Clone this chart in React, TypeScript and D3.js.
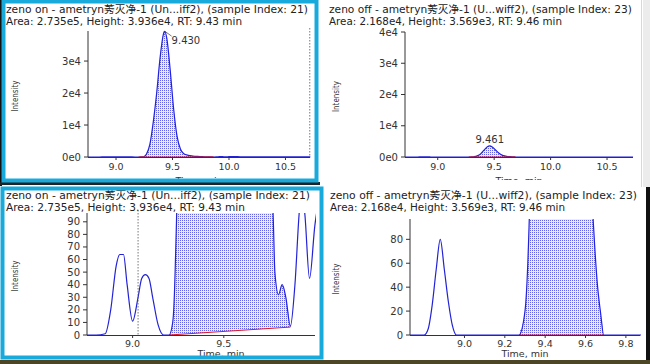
import React from 'react';
import * as d3 from 'd3';

// ---- data ----
const zenoOnTrace: [number, number][] = [
  [8.75, 0], [8.80, 0], [8.85, 1], [8.88, 20], [8.91, 55], [8.93, 64], [8.95, 64], [8.97, 40],
  [9.00, 11], [9.03, 30], [9.05, 45], [9.07, 48], [9.09, 45], [9.11, 30], [9.14, 8], [9.17, 0],
  [9.20, 0], [9.22, 10], [9.235, 60], [9.25, 180], [9.27, 900], [9.30, 4000], [9.33, 11000],
  [9.36, 20000], [9.39, 31000], [9.42, 38500], [9.43, 39360], [9.45, 37000], [9.48, 27000],
  [9.51, 15000], [9.54, 6500], [9.57, 2500], [9.60, 1000], [9.64, 500], [9.68, 300], [9.72, 180],
  [9.755, 120], [9.77, 97], [9.78, 50], [9.80, 32], [9.82, 40], [9.84, 30], [9.865, 7], [9.89, 40],
  [9.915, 100], [9.93, 115], [9.945, 95], [9.97, 45], [10.0, 88], [10.03, 110], [10.1, 80],
  [10.2, 40], [10.3, 30], [10.4, 20], [10.5, 25], [10.6, 15], [10.72, 10],
];
const zenoOnBaseline: [number, number][] = [[9.2, 0], [9.865, 6.3]];

const zenoOffTrace: [number, number][] = [
  [8.71, 0], [8.80, 0], [8.82, 5], [8.84, 25], [8.86, 55], [8.88, 80], [8.90, 55], [8.92, 28],
  [8.94, 8], [8.96, 0], [9.27, 0], [9.30, 20], [9.32, 90], [9.35, 350], [9.38, 1000], [9.41, 2200],
  [9.44, 3300], [9.461, 3569], [9.48, 3300], [9.51, 2300], [9.54, 1300], [9.57, 600], [9.60, 300],
  [9.62, 160], [9.64, 90], [9.66, 40], [9.675, 18], [9.69, 0], [10.73, 0],
];
const zenoOffBaseline: [number, number][] = [[9.275, 0], [9.69, 0]];

const titleOn = 'zeno on - ametryn莠灭净-1 (Un...iff2), (sample Index: 21)';
const infoOn = 'Area: 2.735e5, Height: 3.936e4, RT: 9.43 min';
const titleOff = 'zeno off - ametryn莠灭净-1 (U...wiff2), (sample Index: 23)';
const infoOff = 'Area: 2.168e4, Height: 3.569e3, RT: 9.46 min';

const topXTicks = [9.0, 9.5, 10.0, 10.5];
const topYTicks = [0, 10000, 20000, 30000, 40000];
const onZoomXTicks = [9.0, 9.5];
const onZoomYTicks = [0, 10, 20, 30, 40, 50, 60, 70, 80, 90];
const offZoomXTicks = [9.0, 9.2, 9.4, 9.6, 9.8];
const offZoomYTicks = [0, 20, 40, 60, 80];

const FONT = '"DejaVu Sans", "Noto Sans CJK SC", sans-serif';
const BLUE = '#2323d6';
const RED = '#e01818';
const CYAN = '#19aadc';

const sciFmt = (v: number) => {
  if (v === 0) return '0e0';
  const e = Math.floor(Math.log10(v));
  return `${Math.round(v / Math.pow(10, e))}e${e}`;
};

type PanelProps = {
  id: string;
  trace: [number, number][];
  baseline: [number, number][];
  xDomain: [number, number];
  xRange: [number, number];
  yDomain: [number, number];
  yRange: [number, number];
  xTicks: number[];
  yTicks: number[];
  yFmt: (v: number) => string;
  xFmt: (v: number) => string;
  yTickMax: number;
  title: string;
  info: string;
  titleX: number;
  titleY: number;
  titleLen: number;
  infoLen: number;
  intensityX: number;
  timeY: number;
  timeX?: number;
  tickLabelDy: number;
  clipBottom?: number;
  peak?: { t: number; v: number; label: string; leader: boolean };
  cursorT?: number;
};

function Panel(p: PanelProps) {
  const x = d3.scaleLinear().domain(p.xDomain).range(p.xRange);
  const y = d3.scaleLinear().domain(p.yDomain).range(p.yRange);
  const [x0, x1] = p.xRange;
  const [yb, yt] = p.yRange;
  const line = d3.line<[number, number]>().x(d => x(d[0])).y(d => y(d[1])).curve(d3.curveMonotoneX);

  const [b0, b1] = p.baseline;
  const baseAt = (t: number) => b0[1] + (b1[1] - b0[1]) * (t - b0[0]) / (b1[0] - b0[0]);
  const interp = (t: number) => {
    for (let i = 0; i < p.trace.length - 1; i++) {
      const a = p.trace[i], b = p.trace[i + 1];
      if (t >= a[0] && t <= b[0]) return a[1] + (b[1] - a[1]) * (t - a[0]) / (b[0] - a[0]);
    }
    return 0;
  };
  const fillPts: [number, number][] = [
    [b0[0], interp(b0[0])],
    ...p.trace.filter(d => d[0] > b0[0] && d[0] < b1[0]),
    [b1[0], interp(b1[0])],
  ];
  const area = d3.area<[number, number]>()
    .x(d => x(d[0]))
    .y0(d => y(baseAt(d[0])))
    .y1(d => y(Math.max(d[1], baseAt(d[0]))))
    .curve(d3.curveMonotoneX);

  const midX = p.timeX ?? (x0 + x1) / 2;
  const intensityY = (yb + yt) / 2 + 2;

  return (
    <g clipPath={p.clipBottom ? `url(#${p.id}-panel)` : undefined}>
      <defs>
        <clipPath id={`${p.id}-plot`}>
          <rect x={x0} y={yt} width={x1 - x0 + 1} height={yb - yt + 1} />
        </clipPath>
        {p.clipBottom ? (
          <clipPath id={`${p.id}-panel`}>
            <rect x={0} y={0} width={650} height={p.clipBottom} />
          </clipPath>
        ) : null}
      </defs>
      <text x={p.titleX} y={p.titleY} fontSize={10.5} fontFamily={FONT} fill="#222"
        textLength={p.titleLen} lengthAdjust="spacingAndGlyphs">{p.title}</text>
      <text x={p.titleX} y={p.titleY + 12} fontSize={10.5} fontFamily={FONT} fill="#222"
        textLength={p.infoLen} lengthAdjust="spacingAndGlyphs">{p.info}</text>

      <g clipPath={`url(#${p.id}-plot)`}>
        <path d={area(fillPts) ?? ''} fill={`url(#dots)`} stroke="none" />
        <path d={line(p.trace) ?? ''} fill="none" stroke={BLUE} strokeWidth={1.2} />
        <line x1={x(b0[0])} y1={y(b0[1])} x2={x(b1[0])} y2={y(b1[1])} stroke={RED} strokeWidth={1} />
      </g>

      {p.cursorT !== undefined && (
        <line x1={x(p.cursorT)} x2={x(p.cursorT)} y1={yt - 3} y2={yb} stroke="#555" strokeWidth={0.8} strokeDasharray="1.5,1.5" />
      )}

      {/* axes */}
      <line x1={x0} x2={x0} y1={yt} y2={yb} stroke="#333" strokeWidth={1} />
      <line x1={x0} x2={x1} y1={yb + 0.5} y2={yb + 0.5} stroke="#333" strokeWidth={1} />
      {p.yTicks.filter(v => v <= p.yTickMax).map(v => (
        <g key={`y${v}`}>
          <line x1={x0 - 4} x2={x0} y1={y(v)} y2={y(v)} stroke="#333" />
          <text x={x0 - 7} y={y(v)} dy="0.35em" textAnchor="end" fontSize={10} fontFamily={FONT} fill="#333">{p.yFmt(v)}</text>
        </g>
      ))}
      {p.xTicks.map(v => (
        <g key={`x${v}`}>
          <line x1={x(v)} x2={x(v)} y1={yb} y2={yb + 3} stroke="#333" />
          <text x={x(v)} y={yb + p.tickLabelDy} textAnchor="middle" fontSize={9.5} fontFamily={FONT} fill="#333">{p.xFmt(v)}</text>
        </g>
      ))}
      <text x={midX} y={p.timeY} textAnchor="middle" fontSize={9.5} fontFamily={FONT} fill="#333">Time, min</text>
      <text transform={`translate(${p.intensityX},${intensityY}) rotate(-90)`} textAnchor="middle"
        fontSize={8.5} fontFamily={FONT} fill="#333" textLength={31} lengthAdjust="spacingAndGlyphs">Intensity</text>

      {p.peak && (
        <g>
          {p.peak.leader && (
            <line x1={x(p.peak.t)} y1={y(p.peak.v)} x2={x(p.peak.t) + 7} y2={y(p.peak.v) + 5} stroke="#555" strokeWidth={0.8} />
          )}
          <text x={p.peak.leader ? x(p.peak.t) + 7 : x(p.peak.t)} y={p.peak.leader ? y(p.peak.v) + 13 : y(p.peak.v) - 3}
            textAnchor={p.peak.leader ? 'start' : 'middle'} fontSize={10} fontFamily={FONT} fill="#333">{p.peak.label}</text>
        </g>
      )}
    </g>
  );
}

export default function App() {
  const f1 = (v: number) => v.toFixed(1);
  const intFmt = (v: number) => `${v}`;
  return (
    <svg width={650} height={364} style={{ position: 'absolute', left: 0, top: 0, background: '#fff' }}>
      <defs>
        <pattern id="dots" width={2} height={2} patternUnits="userSpaceOnUse">
          <rect width={2} height={2} fill="#ececfc" />
          <rect width={1} height={1} fill="#6262e8" />
        </pattern>
      </defs>
      <rect x={0} y={0} width={650} height={364} fill="#fff" />

      {/* top-left */}
      <Panel id="tl" trace={zenoOnTrace} baseline={zenoOnBaseline}
        xDomain={[8.752, 10.717]} xRange={[88, 310]} yDomain={[0, 39400]} yRange={[157, 31]}
        xTicks={topXTicks} yTicks={topYTicks} yFmt={sciFmt} xFmt={f1} yTickMax={39000}
        title={titleOn} info={infoOn} titleX={6} titleY={13} titleLen={302} infoLen={236}
        intensityX={18} timeY={184} tickLabelDy={13} clipBottom={179}
        peak={{ t: 9.43, v: 39360, label: '9.430', leader: true }} cursorT={10.715} />

      {/* top-right */}
      <Panel id="tr" trace={zenoOffTrace} baseline={zenoOffBaseline}
        xDomain={[8.71, 10.73]} xRange={[405, 633]} yDomain={[0, 40000]} yRange={[157, 32]}
        xTicks={topXTicks} yTicks={topYTicks} yFmt={sciFmt} xFmt={f1} yTickMax={40000}
        title={titleOff} info={infoOff} titleX={329} titleY={13} titleLen={303} infoLen={233}
        intensityX={339} timeY={184} tickLabelDy={13} clipBottom={180}
        peak={{ t: 9.461, v: 3569, label: '9.461', leader: false }} />

      {/* bottom-left */}
      <Panel id="bl" trace={zenoOnTrace} baseline={zenoOnBaseline}
        xDomain={[8.75, 10.0]} xRange={[87, 315]} yDomain={[0, 97]} yRange={[335, 213]}
        xTicks={onZoomXTicks} yTicks={onZoomYTicks} yFmt={intFmt} xFmt={f1} yTickMax={90}
        title={titleOn} info={infoOn} titleX={6} titleY={199} titleLen={304} infoLen={239}
        intensityX={18} timeY={357} timeX={221} tickLabelDy={12} cursorT={9.03} />

      {/* bottom-right */}
      <Panel id="br" trace={zenoOffTrace} baseline={zenoOffBaseline}
        xDomain={[8.73, 9.87]} xRange={[410, 640]} yDomain={[0, 97]} yRange={[335, 219]}
        xTicks={offZoomXTicks} yTicks={offZoomYTicks} yFmt={intFmt} xFmt={f1} yTickMax={80}
        title={titleOff} info={infoOff} titleX={330} titleY={199} titleLen={307} infoLen={235}
        intensityX={339} timeY={357} tickLabelDy={12} />

      {/* frames */}
      <rect x={0} y={0} width={2} height={186} fill="#111" />
      <rect x={0} y={182} width={320} height={3} fill="#222" />
      <rect x={3.5} y={1.5} width={313} height={179} fill="none" stroke={CYAN} strokeWidth={4} />
      <rect x={2.5} y={188.5} width={319} height={169} fill="none" stroke={CYAN} strokeWidth={4} />
      <line x1={641.5} x2={641.5} y1={0} y2={187} stroke="#d8d8d8" strokeWidth={1} />
      <rect x={643} y={0} width={7} height={187} fill="#ececec" />
      <rect x={646} y={187} width={4} height={177} fill="#111" />
      <rect x={0} y={360} width={650} height={4} fill="#4d4626" />
    </svg>
  );
}
